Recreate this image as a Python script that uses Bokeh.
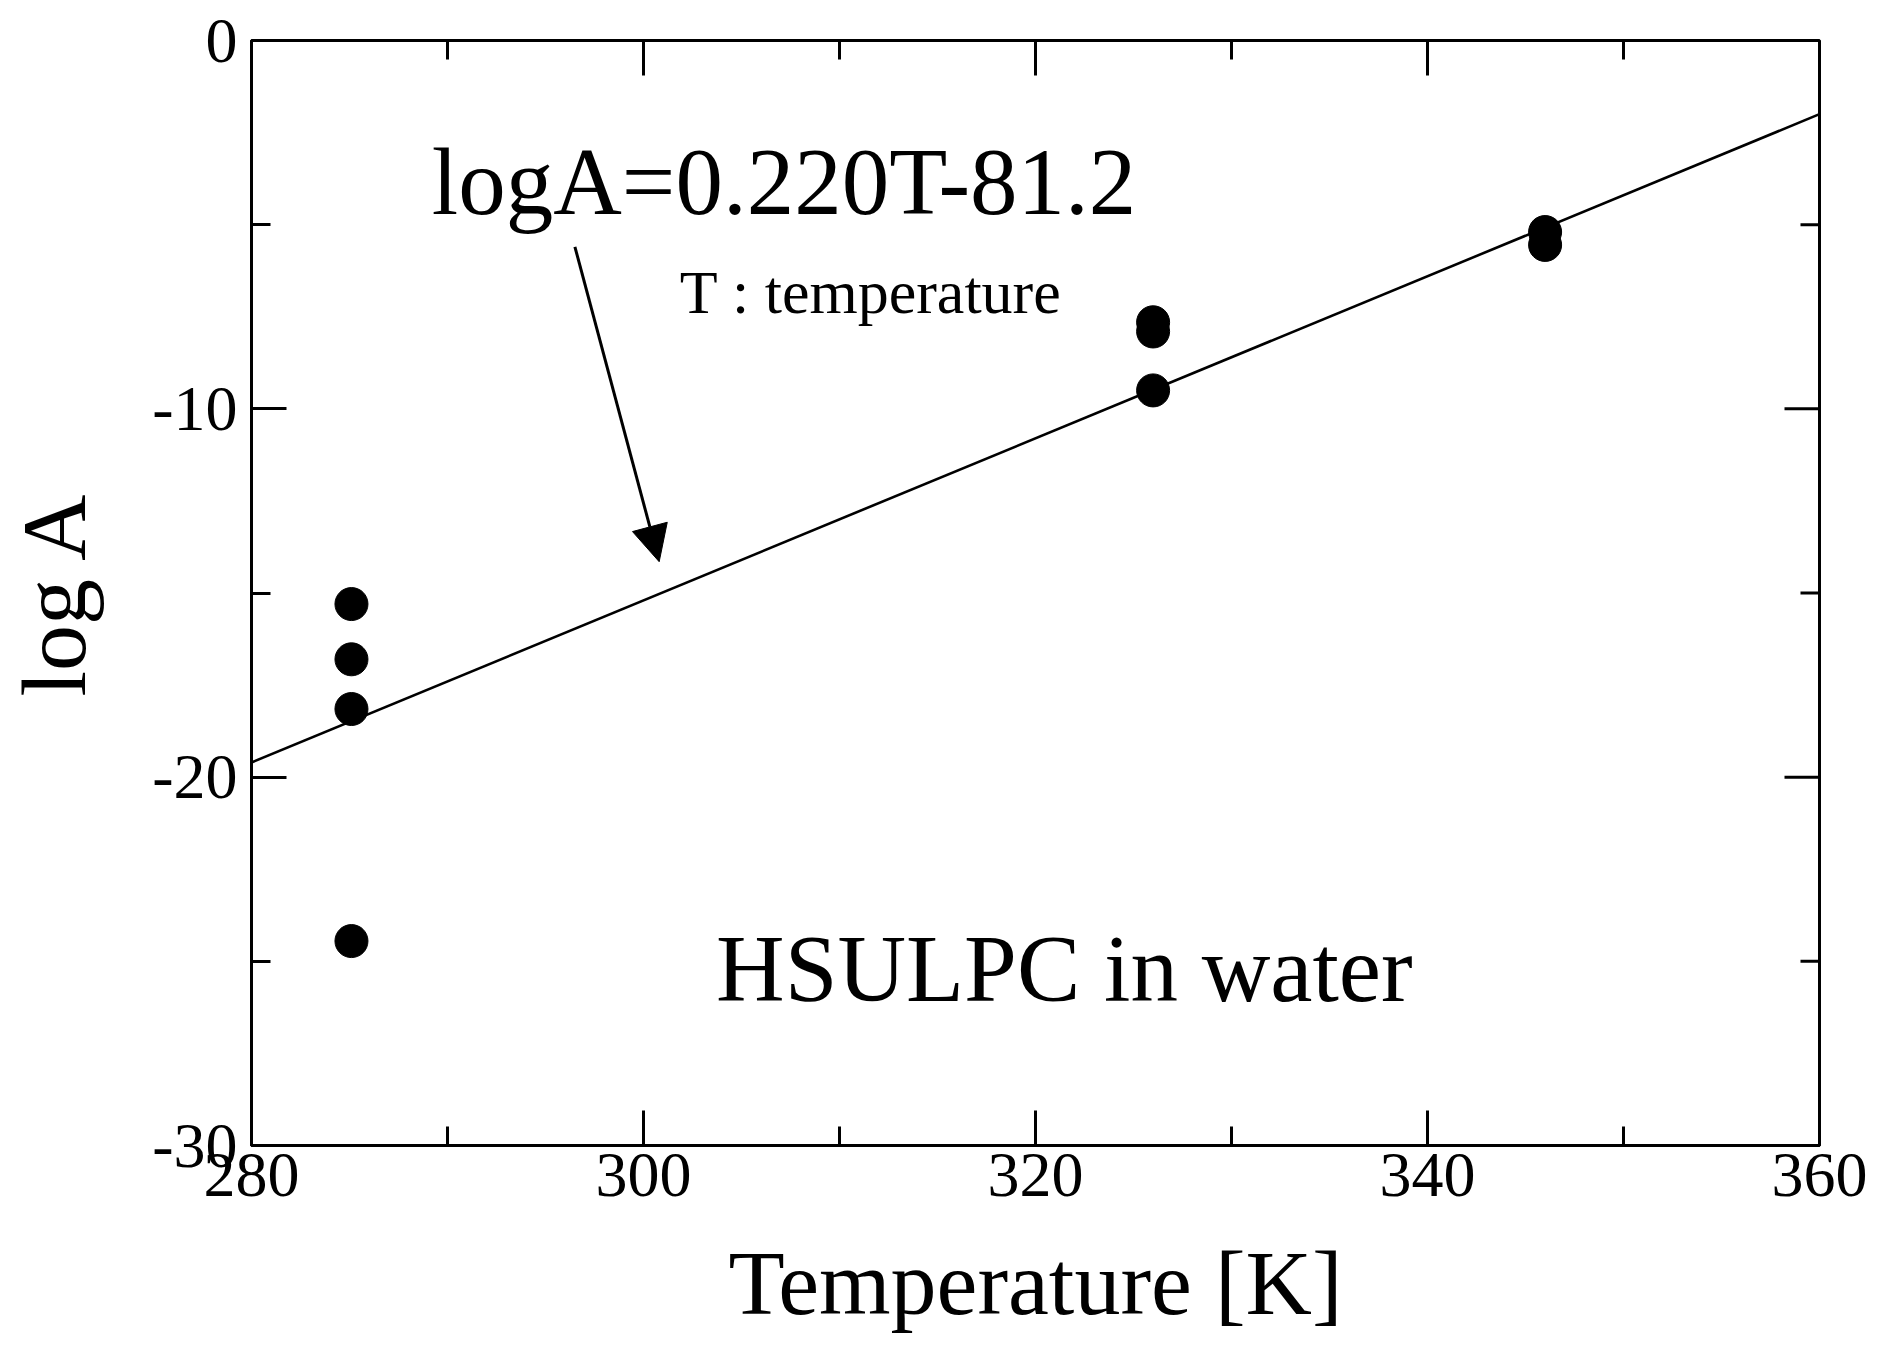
import math
from bokeh.plotting import figure
from bokeh.models import (Range1d, LinearAxis, FixedTicker, Label, Arrow, NormalHead)
from bokeh.embed import file_html
from bokeh.resources import INLINE

# ---- data ----
temperature = [285.1, 285.1, 285.1, 285.1, 326, 326, 326, 346, 346]
log_a = [-15.3, -16.8, -18.15, -24.45, -7.65, -7.9, -9.5, -5.2, -5.55]

fit_slope = 0.220
fit_intercept = -81.2
fit_T = [280, 360]
fit_logA = [fit_slope * t + fit_intercept for t in fit_T]

x_ticks = [280, 300, 320, 340, 360]
x_tick_labels = ["280", "300", "320", "340", "360"]
x_minor = [290, 310, 330, 350]
y_ticks = [-30, -20, -10, 0]
y_tick_labels = ["-30", "-20", "-10", "0"]
y_minor = [-25, -15, -5]

FONT = "Liberation Serif"

x_lo, x_hi = x_ticks[0], x_ticks[-1]
y_lo, y_hi = y_ticks[0], y_ticks[-1]

p = figure(frame_width=1568, frame_height=1105,
           x_range=Range1d(x_lo, x_hi), y_range=Range1d(y_lo, y_hi),
           output_backend="svg", toolbar_location=None,
           x_axis_location=None, y_axis_location=None,
           min_border_left=242, min_border_right=51,
           min_border_top=40, min_border_bottom=180,
           background_fill_color="white", border_fill_color="white")
p.grid.visible = False
p.outline_line_color = "black"
p.outline_line_width = 3


def make_axis(ticks, minor, labels):
    ax = LinearAxis(ticker=FixedTicker(ticks=ticks, minor_ticks=minor))
    ax.axis_line_color = "black"
    ax.axis_line_width = 3
    ax.major_tick_in = 35
    ax.major_tick_out = 0
    ax.minor_tick_in = 19
    ax.minor_tick_out = 0
    ax.major_tick_line_width = 3
    ax.minor_tick_line_width = 3
    ax.major_tick_line_color = "black"
    ax.minor_tick_line_color = "black"
    ax.major_label_overrides = {t: s for t, s in zip(ticks, labels)}
    ax.major_label_text_font = FONT
    ax.major_label_text_font_size = "64px"
    ax.major_label_text_color = "black"
    return ax


xb = make_axis(x_ticks, x_minor, x_tick_labels)
xb.major_label_standoff = 8
xb.axis_label = "Temperature [K]"
xb.axis_label_text_font = FONT
xb.axis_label_text_font_size = "92px"
xb.axis_label_text_font_style = "normal"
xb.axis_label_text_color = "black"
xb.axis_label_standoff = 33
p.add_layout(xb, "below")

yl = make_axis(y_ticks, y_minor, y_tick_labels)
yl.major_label_standoff = 14
yl.axis_label = "log A"
yl.axis_label_text_font = FONT
yl.axis_label_text_font_size = "92px"
yl.axis_label_text_font_style = "normal"
yl.axis_label_text_color = "black"
yl.axis_label_standoff = 44
p.add_layout(yl, "left")

# inward ticks on the top and right edges (outer halves are clipped by the frame)
p.scatter(x_ticks, [y_hi] * len(x_ticks), marker="dash", size=70, angle=math.pi / 2,
          line_color="black", line_width=3)
p.scatter(x_minor, [y_hi] * len(x_minor), marker="dash", size=38, angle=math.pi / 2,
          line_color="black", line_width=3)
p.scatter([x_hi] * len(y_ticks), y_ticks, marker="dash", size=70,
          line_color="black", line_width=3)
p.scatter([x_hi] * len(y_minor), y_minor, marker="dash", size=38,
          line_color="black", line_width=3)

# fit line
p.line(fit_T, fit_logA, line_color="black", line_width=2.6)

# data points
p.scatter(temperature, log_a, size=33, marker="circle",
          fill_color="black", line_color="black")

# annotations
p.add_layout(Label(x=289.2, y=-3.85, text="logA=0.220T-81.2",
                   text_font=FONT, text_font_size="95px",
                   text_color="black", text_baseline="alphabetic"))
p.add_layout(Label(x=301.85, y=-6.82, text="T : temperature",
                   text_font=FONT, text_font_size="62px",
                   text_color="black", text_baseline="alphabetic"))
p.add_layout(Label(x=303.7, y=-25.2, text="HSULPC in water",
                   text_font=FONT, text_font_size="95px",
                   text_color="black", text_baseline="alphabetic"))
p.add_layout(Arrow(x_start=296.5, y_start=-5.6, x_end=300.8, y_end=-14.15,
                   line_color="black", line_width=3,
                   end=NormalHead(size=36, fill_color="black",
                                  line_color="black", line_width=1)))

open("out.html", "w").write(file_html(p, INLINE))
